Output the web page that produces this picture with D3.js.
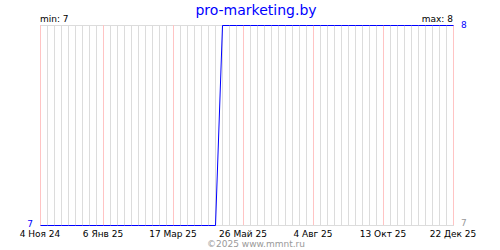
<!DOCTYPE html>
<html>
<head>
<meta charset="utf-8">
<script src="https://cdn.jsdelivr.net/npm/d3@7"></script>
<style>
  body { margin: 0; background: #fff; }
  text { font-family: "DejaVu Sans", Verdana, sans-serif; }
</style>
</head>
<body>
<script>
//chart data
var title = "pro-marketing.by",
  credit = "\u00a92025 www.mmnt.ru";

//weekly series, first point on 4 Nov 2024
var firstWeek = "2024-11-04";
var weekValues = [
  7, 7, 7, 7, 7, 7, 7, 7, 7, 7,
  7, 7, 7, 7, 7, 7, 7, 7, 7, 7,
  7, 7, 7, 7, 7, 7, 8, 8, 8, 8,
  8, 8, 8, 8, 8, 8, 8, 8, 8, 8,
  8, 8, 8, 8, 8, 8, 8, 8, 8, 8,
  8, 8, 8, 8, 8, 8, 8, 8, 8, 8
];

//x tick labels
var tickDates = ["2024-11-04", "2025-01-06", "2025-03-17", "2025-05-26", "2025-08-04", "2025-10-13", "2025-12-22"];
var tickLabels = ["4 Ноя 24", "6 Янв 25", "17 Мар 25", "26 Май 25", "4 Авг 25", "13 Окт 25", "22 Дек 25"];

var yMin = 7, yMax = 8;

window.onload = drawChart();

function drawChart(){
  var width = 500,
    height = 250;

  var svg = d3.select("body")
    .append("svg")
    .attr("width", width)
    .attr("height", height);

  var parse = d3.utcParse("%Y-%m-%d");
  var start = parse(firstWeek);

  var points = weekValues.map(function(v, i) {
    return { date: d3.utcDay.offset(start, 7 * i), value: v };
  });

  var x = d3.scaleUtc()
    .domain([start, points[points.length - 1].date])
    .range([40, 453]);

  var y = d3.scaleLinear()
    .domain([yMin, yMax])
    .range([225, 25]);

  function px(d) { return Math.round(x(d)) + 0.5; }

  //weekly grid
  var weeks = d3.utcMonday.range(start, d3.utcDay.offset(x.domain()[1], 1));
  svg.selectAll(".grid")
    .data(weeks)
    .enter()
    .append("line")
    .attr("class", "grid")
    .attr("x1", px).attr("x2", px)
    .attr("y1", 25).attr("y2", 225)
    .attr("stroke", "#dcdcdc");

  //frame top and bottom
  svg.append("line")
    .attr("x1", 40).attr("x2", 454)
    .attr("y1", 25.5).attr("y2", 25.5)
    .attr("stroke", "#dcdcdc");
  svg.append("line")
    .attr("x1", 40).attr("x2", 454)
    .attr("y1", 225.5).attr("y2", 225.5)
    .attr("stroke", "#dcdcdc");

  //pink lines at labelled dates
  var ticks = tickDates.map(function(d, i) { return { date: parse(d), label: tickLabels[i] }; });
  svg.selectAll(".major")
    .data(ticks)
    .enter()
    .append("line")
    .attr("class", "major")
    .attr("x1", function(d) { return px(d.date); })
    .attr("x2", function(d) { return px(d.date); })
    .attr("y1", 25).attr("y2", 225)
    .attr("stroke", "#ffc4c4");

  svg.selectAll(".tick")
    .data(ticks)
    .enter()
    .append("text")
    .attr("class", "tick")
    .attr("x", function(d) { return x(d.date); })
    .attr("y", 237)
    .attr("text-anchor", "middle")
    .attr("font-size", 9)
    .attr("fill", "#000")
    .text(function(d) { return d.label; });

  //series line
  var line = d3.line()
    .x(function(d) { return px(d.date); })
    .y(function(d) { return Math.round(y(d.value)) + 0.5; });

  svg.append("path")
    .datum(points)
    .attr("d", line)
    .attr("fill", "none")
    .attr("stroke", "#0000ff")
    .attr("stroke-width", 1);

  //title and labels
  svg.append("text")
    .attr("x", 256)
    .attr("y", 15)
    .attr("text-anchor", "middle")
    .attr("font-size", 14)
    .attr("fill", "#0000ff")
    .text(title);

  svg.append("text")
    .attr("x", 40).attr("y", 22)
    .attr("font-size", 9)
    .text("min: " + d3.min(weekValues));

  svg.append("text")
    .attr("x", 453).attr("y", 22)
    .attr("text-anchor", "end")
    .attr("font-size", 9)
    .text("max: " + d3.max(weekValues));

  svg.append("text")
    .attr("x", 33).attr("y", y(yMin) + 2)
    .attr("text-anchor", "end")
    .attr("font-size", 9)
    .attr("fill", "#0000ff")
    .text(yMin);

  svg.append("text")
    .attr("x", 461).attr("y", y(yMax) + 3)
    .attr("font-size", 9)
    .attr("fill", "#0000ff")
    .text(yMax);

  svg.append("text")
    .attr("x", 461).attr("y", y(yMin) + 1)
    .attr("font-size", 9)
    .attr("fill", "#999")
    .text(yMin);

  svg.append("text")
    .attr("x", 256).attr("y", 247)
    .attr("text-anchor", "middle")
    .attr("font-size", 9)
    .attr("fill", "#999")
    .text(credit);
}
</script>
</body>
</html>
